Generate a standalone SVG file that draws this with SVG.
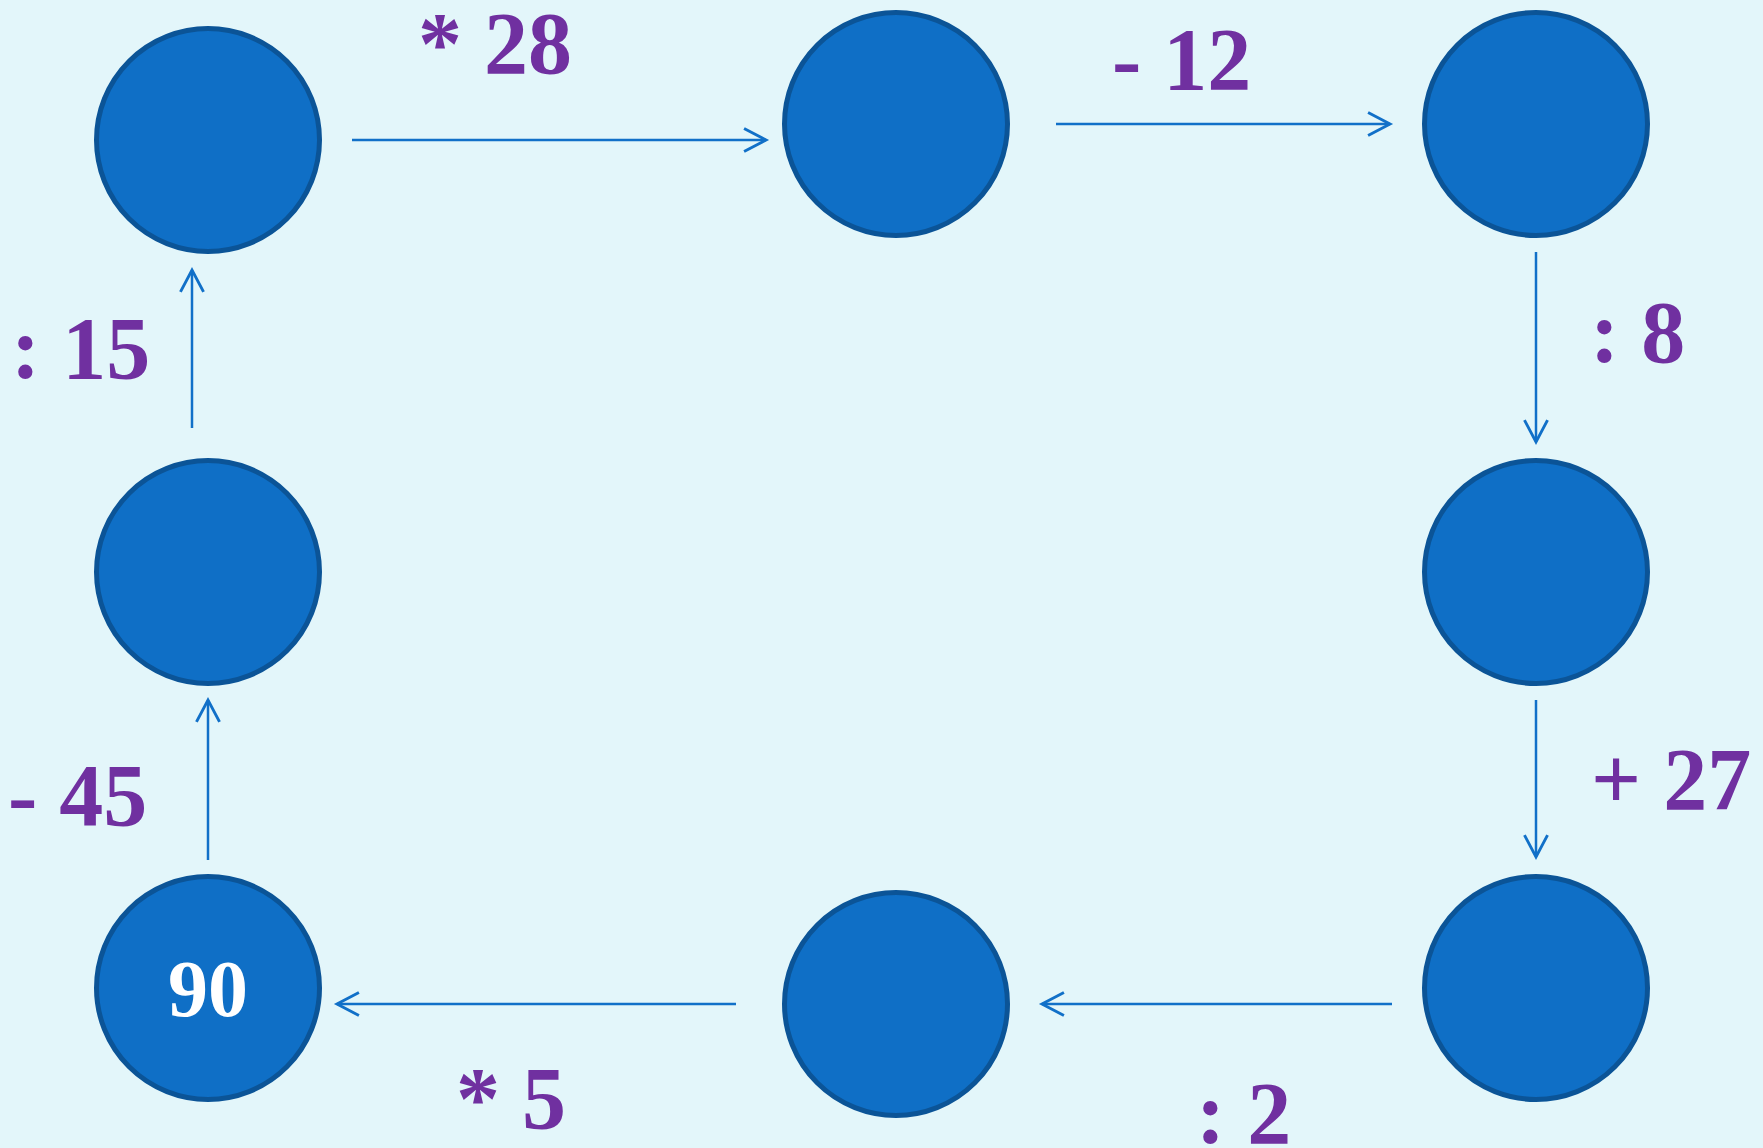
<svg xmlns="http://www.w3.org/2000/svg" width="1763" height="1148" viewBox="0 0 1763 1148">
<defs>
<style>
.node{fill:#0f6fc6;stroke:#0b5497;stroke-width:5}
.lbl{font-size:88px;fill:#7030a0}
.val{font-size:80px;fill:#ffffff;text-anchor:middle}
.conn{stroke:#1170c8;stroke-width:2.5;fill:none;marker-end:url(#arr)}
</style>
<marker id="arr" markerUnits="userSpaceOnUse" markerWidth="30" markerHeight="30" viewBox="-22 -12 26 24" refX="0" refY="0" orient="auto">
<path d="M-19,-10 L0,0 L-19,10" fill="none" stroke="#1170c8" stroke-width="2.5"/>
</marker>
</defs>
<rect width="1763" height="1148" fill="#e3f6fa"/>
<g id="connectors">
<line class="conn" x1="352" y1="140" x2="766" y2="140"/>
<line class="conn" x1="1056" y1="124" x2="1390" y2="124"/>
<line class="conn" x1="1536" y1="252" x2="1536" y2="442"/>
<line class="conn" x1="1536" y1="700" x2="1536" y2="857"/>
<line class="conn" x1="1392" y1="1004" x2="1042" y2="1004"/>
<line class="conn" x1="736" y1="1004" x2="337" y2="1004"/>
<line class="conn" x1="208" y1="860" x2="208" y2="700"/>
<line class="conn" x1="192" y1="428" x2="192" y2="270"/>
</g>
<g font-family="'Liberation Serif', 'Times New Roman', Times, serif" font-weight="700">
<g id="node-top-left"><circle class="node" cx="208" cy="140" r="111.5"/></g>
<g id="node-top-mid"><circle class="node" cx="896" cy="124" r="111.5"/></g>
<g id="node-top-right"><circle class="node" cx="1536" cy="124" r="111.5"/></g>
<g id="node-mid-right"><circle class="node" cx="1536" cy="572" r="111.5"/></g>
<g id="node-bottom-right"><circle class="node" cx="1536" cy="988" r="111.5"/></g>
<g id="node-bottom-mid"><circle class="node" cx="896" cy="1004" r="111.5"/></g>
<g id="node-bottom-left"><circle class="node" cx="208" cy="988" r="111.5"/><text class="val" x="208" y="1016">90</text></g>
<g id="node-mid-left"><circle class="node" cx="208" cy="572" r="111.5"/></g>
<g id="labels">
<text class="lbl" x="418" y="73">* 28</text>
<text class="lbl" x="1112" y="89">- 12</text>
<text class="lbl" x="1590" y="362">: 8</text>
<text class="lbl" x="1591" y="809">+ 27</text>
<text class="lbl" x="1196" y="1143">: 2</text>
<text class="lbl" x="456" y="1128">* 5</text>
<text class="lbl" x="8" y="825">- 45</text>
<text class="lbl" x="11" y="378">: 15</text>
</g>
</g>
</svg>
